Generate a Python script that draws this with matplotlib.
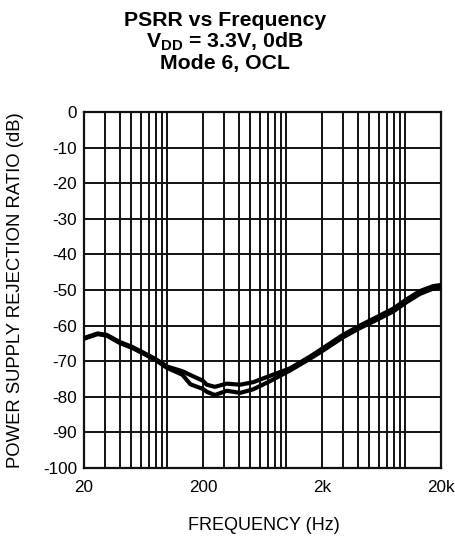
import matplotlib
matplotlib.use("Agg")
import matplotlib.pyplot as plt
from matplotlib.ticker import FixedLocator, NullFormatter

plt.rcParams['font.family'] = ['Liberation Sans', 'DejaVu Sans']
plt.rcParams['mathtext.fontset'] = 'custom'
plt.rcParams['mathtext.rm'] = 'Liberation Sans'
plt.rcParams['mathtext.bf'] = 'Liberation Sans:bold'

# Data
freq_a = [20, 26, 31, 40, 51, 64, 80, 100, 134, 157, 200, 215, 252, 316, 410, 528, 732,
          1078, 1586, 2000, 3000, 4160, 5770, 7960, 10300, 13300, 17200, 20000]
psrr_a = [-63.5, -62.2, -62.6, -64.6, -66.0, -67.7, -69.4, -71.5, -72.8, -73.9, -75.5, -76.6,
          -77.2, -76.3, -76.6, -75.9, -74.1, -72.0, -68.7, -66.5, -62.6, -60.0, -57.6,
          -55.2, -52.6, -50.3, -48.9, -48.6]
freq_b = [20, 26, 31, 40, 51, 64, 80, 100, 134, 157, 200, 215, 252, 316, 410, 528, 732,
          1078, 1586, 2000, 3000, 4160, 5770, 7960, 10300, 13300, 17200, 20000]
psrr_b = [-63.7, -62.4, -62.8, -64.9, -66.3, -68.0, -69.7, -71.9, -73.8, -76.5, -77.8, -78.6,
          -79.5, -78.3, -78.9, -77.9, -75.6, -72.6, -69.3, -67.2, -63.3, -60.7, -58.4,
          -56.0, -53.4, -51.1, -49.6, -49.2]

x_ticks = [20, 200, 2000, 20000]
x_labels = ["20", "200", "2k", "20k"]
y_ticks = [0, -10, -20, -30, -40, -50, -60, -70, -80, -90, -100]

W, H = 456, 537
fig = plt.figure(figsize=(W / 100, H / 100), dpi=100)
ax = fig.add_axes([84 / W, 1 - 468 / H, (441 - 84) / W, (468 - 112) / H])

ax.set_xscale('log')
ax.set_xlim(20, 20000)
ax.set_ylim(-100, 0)

# grid: all log minor positions
minor = []
for dec in [10, 100, 1000, 10000]:
    for m in range(2, 11):
        v = m * dec
        if 20 < v < 20000:
            minor.append(v)
for v in minor:
    ax.axvline(v, color='#111111', lw=1.4, zorder=1)
for v in y_ticks[1:-1]:
    ax.axhline(v, color='#111111', lw=1.4, zorder=1)

ax.plot(freq_a, psrr_a, color='black', lw=3.0, zorder=3, solid_capstyle='butt')
ax.plot(freq_b, psrr_b, color='black', lw=3.0, zorder=3, solid_capstyle='butt')

ax.xaxis.set_minor_locator(FixedLocator([]))
ax.xaxis.set_minor_formatter(NullFormatter())
ax.set_xticks(x_ticks)
ax.set_xticklabels(x_labels)
ax.set_yticks(y_ticks)
ax.set_yticklabels([str(v) for v in y_ticks])
ax.tick_params(axis='both', which='both', length=0, labelsize=12.3)
ax.tick_params(axis='x', pad=9)
ax.tick_params(axis='y', pad=5)

for s in ax.spines.values():
    s.set_linewidth(1.6)
    s.set_color('#111111')

fig.text(264 / W, 1 - 526 / H, "FREQUENCY (Hz)", ha='center', va='center', fontsize=13)
fig.text(16 / W, 1 - 290 / H, "POWER SUPPLY REJECTION RATIO (dB)", ha='center', va='center',
         rotation=90, fontsize=13.3)

fig.text(225 / W, 1 - 20.5 / H, "PSRR vs Frequency", ha='center', va='center',
         fontsize=15.3, fontweight='bold')
fig.text(225 / W, 1 - 42 / H, r"V$_{\mathbf{DD}}$ = 3.3V, 0dB", ha='center', va='center',
         fontsize=15.3, fontweight='bold')
fig.text(225 / W, 1 - 63.5 / H, "Mode 6, OCL", ha='center', va='center',
         fontsize=15.3, fontweight='bold')

fig.savefig("out.png", dpi=100)
